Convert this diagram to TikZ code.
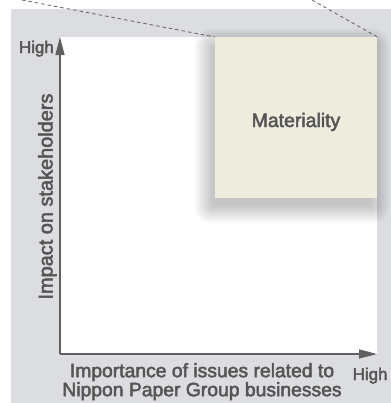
\documentclass[tikz,border=0pt]{standalone}
\usepackage{fontspec}
\setmainfont{Liberation Sans}
\newfontfamily\medfont{Liberation Sans}[FakeBold=2.5]
\usetikzlibrary{arrows.meta}
\definecolor{bggray}{RGB}{220,221,224}
\definecolor{boxfill}{RGB}{238,236,223}
\definecolor{txtgray}{RGB}{85,85,85}
\definecolor{axisgray}{RGB}{95,95,95}
\tikzset{
  axisline/.style={draw=axisgray, line width=1.4bp, -{Triangle[length=18bp,width=9bp]}},
  guide/.style={draw=axisgray, line width=0.8bp, dash pattern=on 3.5bp off 3bp},
  lbl/.style={inner sep=0pt, text=txtgray},
  shadowstep/.style={fill=black, fill opacity=0.012},
}
\begin{document}
\begin{tikzpicture}[x=1bp,y=-1bp]
\useasboundingbox (0,0) rectangle (391,403);
% backgrounds
\fill[bggray] (11,9) rectangle (391,403);
\fill[white] (60,37) rectangle (377,354);
% soft shadow of the materiality box
\foreach \r in {-2,0,...,34}{
  \fill[shadowstep, rounded corners=\r*0.5bp+1bp] (211-\r*0.5,45-\r*0.5) rectangle (373+\r*0.5,207+\r*0.5);
}
% materiality box
\node (box) [draw=none, fill=boxfill, inner sep=0pt, anchor=north west,
  minimum width=162bp, minimum height=161bp] at (215,37) {};
\node (mat) [lbl, anchor=base, font=\medfont\fontsize{19.5}{22}\selectfont] at (296,127) {Materiality};
% axes
\coordinate (origin) at (60,354);
\coordinate (ytip) at (60,37);
\coordinate (xtip) at (377,354);
\draw[axisline] (origin) -- (ytip);
\draw[axisline] (origin) -- (xtip);
% dashed guides
\coordinate (g1) at (22,0);
\coordinate (g2) at (312,0);
\draw[guide] (g1) -- (box.north west);
\draw[guide] (g2) -- (box.north east);
% labels
\node (yhigh) [lbl, anchor=base east, font=\medfont\fontsize{17}{20}\selectfont] at (54,53) {High};
\node (xhigh) [lbl, anchor=base west, font=\medfont\fontsize{17}{20}\selectfont] at (352.5,380) {High};
\node (ylab) [lbl, rotate=90, anchor=base, font=\medfont\fontsize{20}{24}\selectfont] at (52.5,196.5) {Impact on stakeholders};
\node (xlab) [lbl, anchor=north, align=center, font=\medfont\fontsize{19.4}{15}\selectfont] at (202,363) {Importance of issues related to\\Nippon Paper Group businesses};
\end{tikzpicture}
\end{document}
